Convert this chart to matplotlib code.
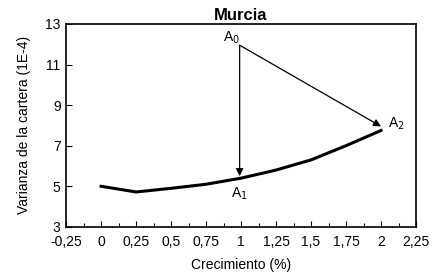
import matplotlib
matplotlib.use("Agg")
import matplotlib.pyplot as plt
from matplotlib.ticker import MultipleLocator

plt.rcParams['font.family'] = ['Liberation Sans', 'DejaVu Sans']

growth = [0, 0.25, 0.5, 0.75, 1.0, 1.25, 1.5, 1.75, 2.0]
variance = [5.0, 4.72, 4.9, 5.1, 5.4, 5.8, 6.3, 7.0, 7.75]
xticks = [-0.25, 0, 0.25, 0.5, 0.75, 1, 1.25, 1.5, 1.75, 2, 2.25]
xticklabels = ["-0,25", "0", "0,25", "0,5", "0,75", "1", "1,25", "1,5", "1,75", "2", "2,25"]
yticks = [3, 5, 7, 9, 11, 13]
A0 = (0.99, 11.95)
A1 = (0.99, 5.5)
A2 = (2.0, 7.95)

fig = plt.figure(figsize=(4.32, 2.75), dpi=100)
ax = fig.add_axes([0.153, 0.175, 0.810, 0.738])
ax.plot(growth, variance, color='black', lw=2.2)

ax.annotate("", xy=A1, xytext=A0,
            arrowprops=dict(arrowstyle='-|>', color='black', lw=0.9, mutation_scale=11, shrinkA=0, shrinkB=0))
ax.annotate("", xy=A2, xytext=A0,
            arrowprops=dict(arrowstyle='-|>', color='black', lw=0.9, mutation_scale=11, shrinkA=0, shrinkB=0))
ax.text(0.93, 12.3, r"A$_0$", ha='center', va='center', fontsize=10)
ax.text(0.99, 4.62, r"A$_1$", ha='center', va='center', fontsize=10)
ax.text(2.11, 8.1, r"A$_2$", ha='center', va='center', fontsize=10)

ax.set_xlim(-0.25, 2.25)
ax.set_ylim(3, 13)
ax.set_xticks(xticks)
ax.set_xticklabels(xticklabels)
ax.xaxis.set_minor_locator(MultipleLocator(0.125))
ax.set_yticks(yticks)
ax.tick_params(axis='both', direction='in', labelsize=10, length=4, width=0.8)
ax.tick_params(axis='x', pad=6)
ax.tick_params(axis='y', pad=4)
ax.tick_params(axis='x', which='minor', direction='in', length=3, width=0.8)
for s in ax.spines.values():
    s.set_linewidth(1.2)

ax.set_title("Murcia", fontsize=12, fontweight='bold', pad=3)
ax.set_xlabel("Crecimiento (%)", fontsize=10, labelpad=6)
ax.set_ylabel("Varianza de la cartera (1E-4)", fontsize=10, labelpad=10)

fig.savefig("out.png", dpi=100)
